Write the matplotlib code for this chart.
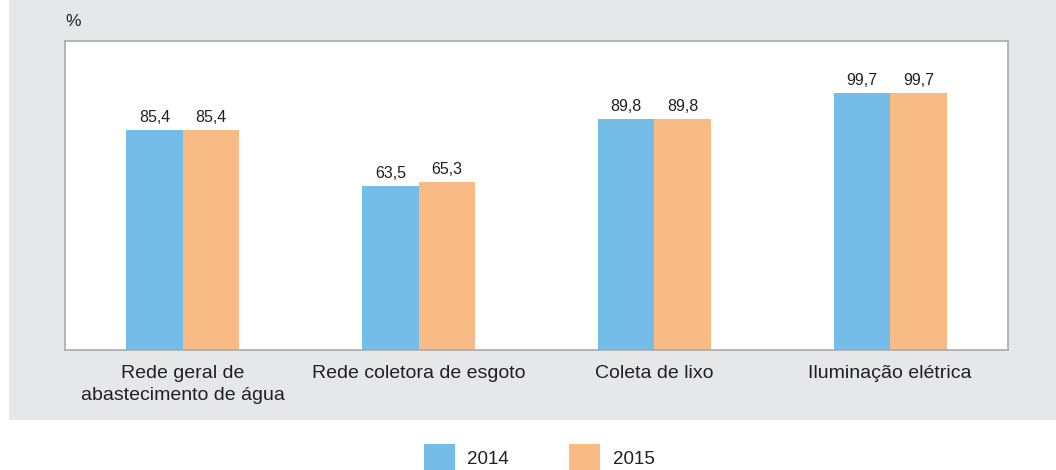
import matplotlib
matplotlib.use("Agg")
import matplotlib.pyplot as plt
from matplotlib.patches import Rectangle
import numpy as np

categories = ["Rede geral de\nabastecimento de água", "Rede coletora de esgoto",
              "Coleta de lixo", "Iluminação elétrica"]
years = ["2014", "2015"]
values_2014 = [85.4, 63.5, 89.8, 99.7]
values_2015 = [85.4, 65.3, 89.8, 99.7]

colors = ["#74BDE8", "#F9BB85"]
plt.rcParams["font.family"] = ["Liberation Sans", "DejaVu Sans"]

W, H = 1056, 470
fig = plt.figure(figsize=(W / 100, H / 100), dpi=100)
fig.patch.set_facecolor("white")

# grey panel behind the chart
fig.add_artist(Rectangle((9 / W, (H - 420) / H), 1 - 9 / W, 420 / H,
                         transform=fig.transFigure, facecolor="#E6E7E9",
                         edgecolor="none", zorder=0))

ax = fig.add_axes([65 / W, (H - 350) / H, (1008 - 65) / W, (350 - 41) / H])
ax.set_facecolor("white")
x = np.arange(len(categories))
bw = 0.24
for i, (vals, c) in enumerate(zip([values_2014, values_2015], colors)):
    pos = x + (i - 0.5) * bw
    ax.bar(pos, vals, width=bw, color=c, zorder=2)
    for p, v in zip(pos, vals):
        ax.text(p, v + 2.0, f"{v:.1f}".replace(".", ","), ha="center", va="bottom",
                fontsize=11.5, color="#231F20")

ax.set_xlim(-0.5, len(categories) - 0.5)
ax.set_ylim(0, 120)
ax.set_yticks([])
ax.set_xticks(x)
ax.set_xticklabels(categories, fontsize=14, color="#231F20", linespacing=1.35)
ax.tick_params(axis="x", length=0, pad=11)
for s in ax.spines.values():
    s.set_color("#A7A9AC")
    s.set_linewidth(1.2)

fig.text(65 / W, 1 - 22 / H, "%", fontsize=12.5, color="#231F20", va="center", ha="left")

# legend
for sx, tx, c, lab in [(424, 467, colors[0], years[0]), (569, 613, colors[1], years[1])]:
    fig.add_artist(Rectangle((sx / W, 0), 31 / W, 26 / H, transform=fig.transFigure,
                             facecolor=c, edgecolor="none"))
    fig.text(tx / W, 1 - 460 / H, lab, fontsize=13.5, color="#231F20", va="center", ha="left")

fig.savefig("out.png", dpi=100, facecolor="white")
